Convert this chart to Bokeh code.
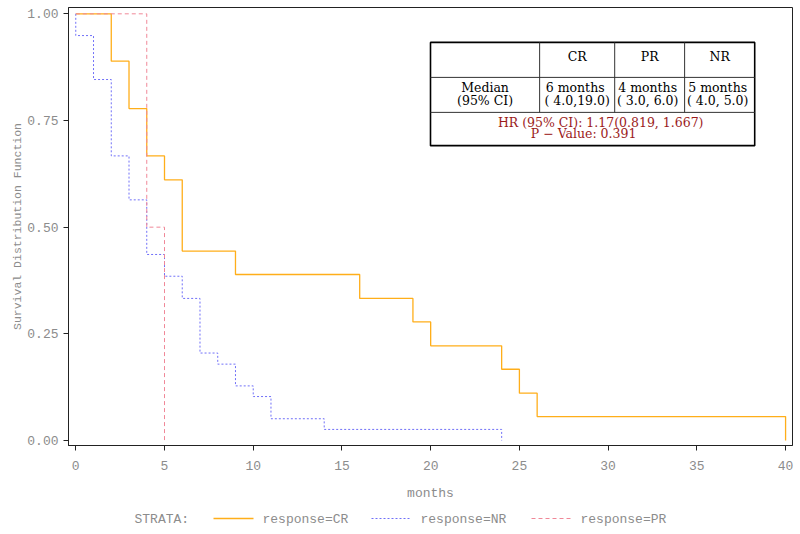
from bokeh.plotting import figure
from bokeh.layouts import column
from bokeh.models import Range1d, FixedTicker, NumeralTickFormatter
from bokeh.core.properties import value
from bokeh.embed import file_html
from bokeh.resources import INLINE

# ---- data ----
cr_time = [0, 2, 3, 4, 5, 6, 9, 16, 19, 20, 24, 25, 26, 40]
cr_surv = [1.0, 0.889, 0.778, 0.667, 0.611, 0.444, 0.389, 0.333, 0.278, 0.222, 0.167, 0.111, 0.056, 0.0]

nr_time = [0, 0, 1, 2, 3, 4, 5, 6, 7, 8, 9, 10, 11, 14, 24]
nr_surv = [1.0, 0.949, 0.846, 0.667, 0.564, 0.436, 0.385, 0.333, 0.205, 0.179, 0.128, 0.103, 0.051, 0.026, 0.0]

pr_time = [0, 4, 5]
pr_surv = [1.0, 0.5, 0.0]

x_ticks = [0, 5, 10, 15, 20, 25, 30, 35, 40]
y_ticks = [0.0, 0.25, 0.5, 0.75, 1.0]

strata_title = "STRATA:"
strata_labels = ["response=CR", "response=NR", "response=PR"]

table_header = ["CR", "PR", "NR"]
table_median = ["6  months", "4  months", "5  months"]
table_ci = ["( 4.0,19.0)", "( 3.0,  6.0)", "( 4.0,  5.0)"]
table_row_label = ["Median", "(95% CI)"]
hr_text = "HR (95% CI): 1.17(0.819, 1.667)"
p_text = "P \u2212 Value:  0.391"

CR_COLOR = "#FFAE1A"
NR_COLOR = "#7070F8"
PR_COLOR = "#F08898"
TXT = "#8C8C8C"
MONO = "Liberation Mono"
SERIF = "DejaVu Serif"

series_colors = [CR_COLOR, NR_COLOR, PR_COLOR]
series_dash = ["solid", "2 2", "4 3"]
series_width = [1.3, 1, 1]

p = figure(width=800, height=504, output_backend="svg", toolbar_location=None,
           x_range=Range1d(-0.41, 40.39), y_range=Range1d(-0.0117, 1.0148),
           min_border_left=68, min_border_right=8, min_border_top=7, min_border_bottom=59)
p.grid.visible = False
p.outline_line_color = "#222222"
p.outline_line_width = 1
p.background_fill_color = "white"
p.border_fill_color = "white"

p.xaxis.ticker = FixedTicker(ticks=x_ticks)
p.yaxis.ticker = FixedTicker(ticks=y_ticks)
p.yaxis.formatter = NumeralTickFormatter(format="0.00")
for ax in (p.xaxis[0], p.yaxis[0]):
    ax.minor_tick_line_color = None
    ax.major_tick_in = 0
    ax.major_tick_out = 5
    ax.axis_line_color = "#222222"
    ax.major_tick_line_color = "#222222"
    ax.major_label_text_font = MONO
    ax.major_label_text_font_size = "13px"
    ax.major_label_text_color = TXT
    ax.axis_label_text_font = MONO
    ax.axis_label_text_font_style = "normal"
    ax.axis_label_text_color = TXT

p.xaxis.axis_label = "months"
p.xaxis.axis_label_text_font_size = "13px"
p.xaxis.major_label_standoff = 10
p.xaxis.axis_label_standoff = 13
p.yaxis.axis_label = "Survival Distribution Function"
p.yaxis.axis_label_text_font_size = "11.5px"
p.yaxis.major_label_standoff = 5
p.yaxis.axis_label_standoff = 0

r_cr = p.step(cr_time, cr_surv, mode="after", line_color=CR_COLOR, line_width=series_width[0])
r_nr = p.step(nr_time, nr_surv, mode="after", line_color=NR_COLOR, line_width=series_width[1], line_dash=series_dash[1])
r_pr = p.step(pr_time, pr_surv, mode="after", line_color=PR_COLOR, line_width=series_width[2], line_dash=series_dash[2])

# ---- inset table (data coordinates) ----
tx0, tx1, tx2, tx3, tx4 = 19.99, 26.14, 30.37, 34.31, 38.26
ty_top, ty_r1, ty_r2, ty_bot = 0.933, 0.851, 0.769, 0.691
p.quad(left=[tx0], right=[tx4], top=[ty_top], bottom=[ty_bot], fill_color="white",
       line_color="black", line_width=1.6)
p.segment(x0=[tx0, tx0], y0=[ty_r1, ty_r2], x1=[tx4, tx4], y1=[ty_r1, ty_r2], line_color="#333333", line_width=1)
p.segment(x0=[tx1, tx2, tx3], y0=[ty_top] * 3, x1=[tx1, tx2, tx3], y1=[ty_r2] * 3, line_color="#333333", line_width=1)

col_c = [(tx1 + tx2) / 2, (tx2 + tx3) / 2, (tx3 + tx4) / 2]
tstyle = dict(text_font=value(SERIF), text_font_size="12.5px", text_align="center", text_baseline="middle")
p.text(x=col_c, y=[0.900] * 3, text=table_header, text_color="black", **tstyle)
p.text(x=col_c, y=[0.827] * 3, text=table_median, text_color="black", **tstyle)
p.text(x=col_c, y=[0.796] * 3, text=table_ci, text_color="black", **tstyle)
p.text(x=[(tx0 + tx1) / 2] * 2, y=[0.827, 0.796], text=table_row_label, text_color="black", **tstyle)
p.text(x=[29.58], y=[0.745], text=[hr_text], text_color="#9B1B1B", **tstyle)
p.text(x=[28.73], y=[0.719], text=[p_text], text_color="#9B1B1B", **tstyle)

# ---- legend strip (own small figure; x in page pixels, frame aligned with main frame) ----
lg = figure(width=800, height=30, output_backend="svg", toolbar_location=None,
            x_range=Range1d(68, 792), y_range=Range1d(0, 30),
            min_border_left=68, min_border_right=8, min_border_top=0, min_border_bottom=0,
            x_axis_type=None, y_axis_type=None)
lg.grid.visible = False
lg.outline_line_color = None
lg.background_fill_color = "white"
lg.border_fill_color = "white"

ltxt = dict(text_font=value(MONO), text_font_size="13px", text_color=TXT,
            text_align="left", text_baseline="middle")
lg.text(x=[134], y=[15], text=[strata_title], **ltxt)
glyph_x0 = [213, 371, 531]
for i in range(3):
    lg.line(x=[glyph_x0[i], glyph_x0[i] + 40], y=[16, 16], line_color=series_colors[i],
            line_width=series_width[i], line_dash=series_dash[i])
lg.text(x=[g + 49 for g in glyph_x0], y=[15] * 3, text=strata_labels, **ltxt)

open("out.html", "w").write(file_html(column(p, lg, spacing=0), INLINE))
